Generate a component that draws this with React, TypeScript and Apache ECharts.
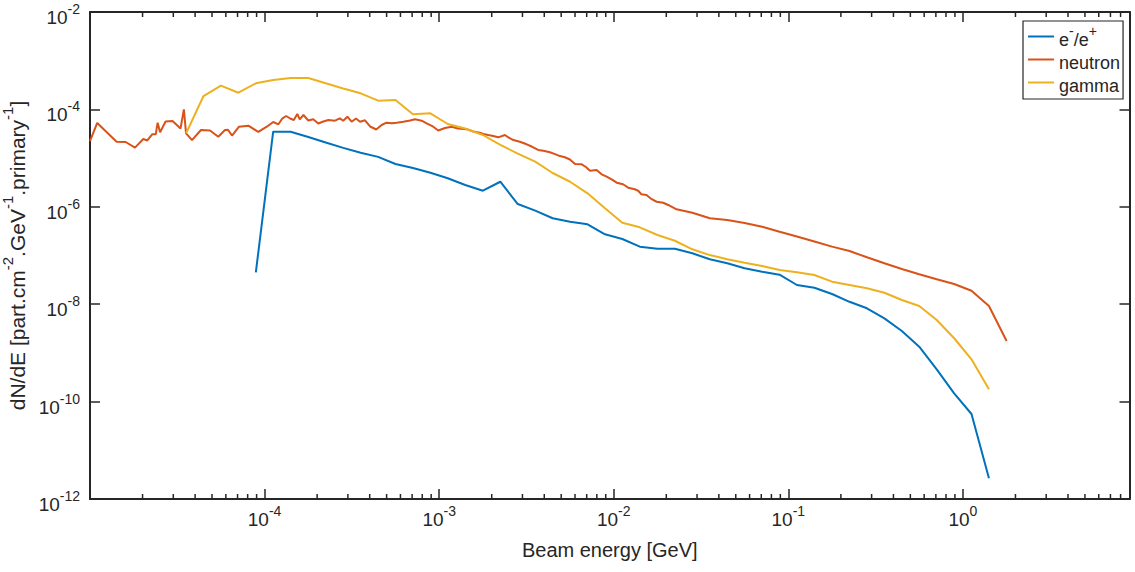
import { useEffect, useRef } from "react";
import * as echarts from "echarts";

// Spectra per unit energy, normalised per primary, for each secondary particle type.
const electronEnergy = [
  8.91e-5, 1.12e-4, 1.41e-4, 1.78e-4, 2.24e-4, 2.82e-4, 3.55e-4, 4.47e-4, 5.62e-4, 7.08e-4,
  8.91e-4, 1.12e-3, 1.41e-3, 1.78e-3, 2.24e-3, 2.82e-3, 3.55e-3, 4.47e-3, 5.62e-3, 7.08e-3,
  8.91e-3, 1.12e-2, 1.41e-2, 1.78e-2, 2.24e-2, 2.82e-2, 3.55e-2, 4.47e-2, 5.62e-2, 7.08e-2,
  8.91e-2, 0.112, 0.141, 0.178, 0.224, 0.282, 0.355, 0.447, 0.562, 0.708, 0.891, 1.12, 1.41,
];
const electronFlux = [
  4.48e-8, 3.48e-5, 3.48e-5, 2.71e-5, 2.09e-5, 1.62e-5, 1.29e-5, 1.06e-5, 7.57e-6, 6.27e-6,
  5.01e-6, 3.85e-6, 2.81e-6, 2.14e-6, 3.27e-6, 1.14e-6, 8.32e-7, 5.81e-7, 4.94e-7, 4.38e-7,
  2.72e-7, 2.18e-7, 1.52e-7, 1.38e-7, 1.38e-7, 1.11e-7, 8.36e-8, 6.92e-8, 5.46e-8, 4.65e-8,
  4.04e-8, 2.48e-8, 2.18e-8, 1.62e-8, 1.12e-8, 8.24e-9, 5.13e-9, 2.82e-9, 1.34e-9, 4.6e-10,
  1.48e-10, 5.56e-11, 2.66e-12,
];

const neutronEnergy = [
  1.0e-5, 1.1e-5, 1.42e-5, 1.6e-5, 1.81e-5, 2.02e-5, 2.13e-5, 2.27e-5, 2.38e-5, 2.44e-5,
  2.52e-5, 2.71e-5, 2.97e-5, 3.3e-5, 3.45e-5, 3.55e-5, 3.84e-5, 4.32e-5, 4.87e-5, 5.43e-5,
  5.93e-5, 6.17e-5, 6.51e-5, 7.14e-5, 8.07e-5, 9.2e-5, 1.03e-4, 1.12e-4, 1.2e-4, 1.26e-4,
  1.33e-4, 1.4e-4, 1.47e-4, 1.54e-4, 1.59e-4, 1.67e-4, 1.78e-4, 1.9e-4, 2.03e-4, 2.17e-4,
  2.32e-4, 2.53e-4, 2.7e-4, 2.82e-4, 2.98e-4, 3.15e-4, 3.34e-4, 3.52e-4, 3.76e-4, 4.02e-4,
  4.36e-4, 4.68e-4, 5.0e-4, 5.35e-4, 5.71e-4, 6.23e-4, 6.81e-4, 7.27e-4, 7.94e-4, 8.48e-4,
  9.25e-4, 9.88e-4, 1.08e-3, 1.18e-3, 1.28e-3, 1.44e-3, 1.57e-3, 1.71e-3, 1.79e-3, 1.91e-3,
  2.04e-3, 2.18e-3, 2.38e-3, 2.49e-3, 2.66e-3, 2.9e-3, 3.17e-3, 3.39e-3, 3.69e-3, 3.95e-3,
  4.31e-3, 4.61e-3, 4.92e-3, 5.25e-3, 5.61e-3, 6.0e-3, 6.55e-3, 6.93e-3, 7.31e-3, 7.98e-3,
  8.52e-3, 9.11e-3, 9.72e-3, 1.04e-2, 1.13e-2, 1.21e-2, 1.32e-2, 1.38e-2, 1.44e-2, 1.54e-2,
  1.65e-2, 1.76e-2, 1.92e-2, 2.05e-2, 2.29e-2, 2.82e-2, 3.55e-2, 4.47e-2, 5.62e-2, 7.08e-2,
  8.91e-2, 0.112, 0.141, 0.178, 0.224, 0.282, 0.355, 0.447, 0.562, 0.708, 0.891, 1.12, 1.41,
  1.78,
];
const neutronFlux = [
  2.24e-5, 5.26e-5, 2.17e-5, 2.14e-5, 1.64e-5, 2.47e-5, 2.3e-5, 3.08e-5, 3.08e-5, 5.33e-5,
  3.39e-5, 5.64e-5, 5.78e-5, 4.06e-5, 1.0e-4, 3.23e-5, 2.33e-5, 3.78e-5, 3.69e-5, 2.75e-5,
  3.78e-5, 3.81e-5, 2.91e-5, 4.41e-5, 4.63e-5, 3.44e-5, 4.41e-5, 5.51e-5, 4.94e-5, 6.44e-5,
  7.32e-5, 6.5e-5, 6.06e-5, 8.04e-5, 6.26e-5, 7.67e-5, 5.92e-5, 6.26e-5, 5.13e-5, 5.64e-5,
  6.06e-5, 5.86e-5, 6.56e-5, 5.86e-5, 7.08e-5, 5.59e-5, 6.5e-5, 5.59e-5, 5.97e-5, 4.46e-5,
  3.87e-5, 4.78e-5, 5.33e-5, 5.18e-5, 5.33e-5, 5.59e-5, 5.92e-5, 6.26e-5, 5.86e-5, 5.18e-5,
  4.41e-5, 3.69e-5, 4.15e-5, 4.41e-5, 4.06e-5, 3.9e-5, 3.52e-5, 3.32e-5, 3.13e-5, 2.98e-5,
  2.84e-5, 2.67e-5, 2.98e-5, 2.67e-5, 2.35e-5, 2.17e-5, 1.92e-5, 1.73e-5, 1.47e-5, 1.42e-5,
  1.32e-5, 1.21e-5, 1.1e-5, 1.04e-5, 9.36e-6, 7.57e-6, 7.46e-6, 6.56e-6, 5.51e-6, 5.7e-6,
  4.65e-6, 4.15e-6, 3.67e-6, 3.13e-6, 2.9e-6, 2.47e-6, 2.29e-6, 2.14e-6, 1.81e-6, 1.75e-6,
  1.43e-6, 1.27e-6, 1.21e-6, 1.09e-6, 8.88e-7, 7.57e-7, 5.81e-7, 5.36e-7, 4.65e-7, 3.9e-7,
  3.07e-7, 2.45e-7, 1.94e-7, 1.52e-7, 1.24e-7, 9.18e-8, 6.91e-8, 5.28e-8, 4.11e-8, 3.25e-8,
  2.6e-8, 1.89e-8, 9.18e-9, 1.76e-9,
];

const gammaEnergy = [
  3.55e-5, 4.47e-5, 5.62e-5, 7.08e-5, 8.91e-5, 1.12e-4, 1.41e-4, 1.78e-4, 2.24e-4, 2.82e-4,
  3.55e-4, 4.47e-4, 5.62e-4, 7.08e-4, 8.91e-4, 1.12e-3, 1.41e-3, 1.78e-3, 2.24e-3, 2.82e-3,
  3.55e-3, 4.47e-3, 5.62e-3, 7.08e-3, 8.91e-3, 1.12e-2, 1.41e-2, 1.78e-2, 2.24e-2, 2.82e-2,
  3.55e-2, 4.47e-2, 5.62e-2, 7.08e-2, 8.91e-2, 0.112, 0.141, 0.178, 0.224, 0.282, 0.355,
  0.447, 0.562, 0.708, 0.891, 1.12, 1.41,
];
const gammaFlux = [
  3.23e-5, 1.88e-4, 3.07e-4, 2.2e-4, 3.44e-4, 4.02e-4, 4.42e-4, 4.42e-4, 3.44e-4, 2.69e-4,
  2.14e-4, 1.51e-4, 1.56e-4, 7.93e-5, 8.32e-5, 5.01e-5, 4.06e-5, 2.98e-5, 1.86e-5, 1.24e-5,
  8.43e-6, 4.94e-6, 3.27e-6, 1.89e-6, 9.31e-7, 4.72e-7, 3.79e-7, 2.64e-7, 2.01e-7, 1.34e-7,
  1.02e-7, 8.36e-8, 7.11e-8, 6.08e-8, 5.04e-8, 4.52e-8, 3.98e-8, 2.9e-8, 2.48e-8, 2.12e-8,
  1.72e-8, 1.22e-8, 9.18e-9, 4.74e-9, 2.0e-9, 7.4e-10, 1.79e-10,
];

// Axis ranges and the decades that carry a label
const X_MIN = 1e-5;
const X_MAX = 9;
const Y_MIN = 1e-12;
const Y_MAX = 1e-2;
const xLabelExponents = [-4, -3, -2, -1, 0];
const yLabelExponents = [-12, -10, -8, -6, -4, -2];
const minorMantissas = [2, 3, 4, 5, 6, 7, 8, 9];
const minorDecades = [-5, -4, -3, -2, -1, 0];

const seriesNames = ["e-/e+", "neutron", "gamma"];
const seriesColors = ["#0072BD", "#D95319", "#EDB120"];

const INK = "#262626";
const FONT = "'Liberation Sans', Arial, Helvetica, sans-serif";

const GRID = { left: 90, top: 12, width: 1039.5, height: 487 };

const pairs = (xs: number[], ys: number[]) => xs.map((x, i) => [x, ys[i]]);

const supRich = (base: number, sup: number, lh: number) => ({
  b: { fontSize: base, lineHeight: lh, verticalAlign: "bottom", fontFamily: FONT, color: INK },
  s: { fontSize: sup, lineHeight: 12, verticalAlign: "top", fontFamily: FONT, color: INK },
});

const decadeFormatter = (labelled: number[]) => (v: number) => {
  const lg = Math.log10(v);
  const e = Math.round(lg);
  if (Math.abs(lg - e) > 1e-6 || !labelled.includes(e)) return "";
  return `{b|10}{s|${e}}`;
};

export default function App() {
  const ref = useRef<HTMLDivElement>(null);

  useEffect(() => {
    const el = ref.current;
    if (!el) return;
    const chart = echarts.init(el, null, { renderer: "svg" });

    const axisLine = { show: true, onZero: false, lineStyle: { color: INK, width: 2 } };
    const majorTick = { show: true, inside: true, length: 10, lineStyle: { color: INK, width: 1.5 } };

    chart.setOption({
      animation: false,
      backgroundColor: "#ffffff",
      grid: { ...GRID, containLabel: false, outerBoundsMode: "none" },
      legend: {
        orient: "vertical",
        left: 1023,
        top: 21,
        padding: [3, 3, 4, 5],
        itemGap: 5,
        itemWidth: 26,
        itemHeight: 2,
        icon: "rect",
        selectedMode: false,
        backgroundColor: "#ffffff",
        borderColor: INK,
        borderWidth: 1.2,
        borderRadius: 0,
        data: seriesNames,
        formatter: (name: string) =>
          name === "e-/e+" ? "{b|e}{s|-}{b|/e}{s|+}" : `{b|${name}}`,
        textStyle: { fontSize: 18, fontFamily: FONT, color: INK, rich: supRich(18, 14, 25) },
      },
      xAxis: [
        {
          type: "log",
          logBase: 10,
          min: X_MIN,
          max: X_MAX,
          interval: 1,
          position: "bottom",
          name: "Beam energy [GeV]",
          nameLocation: "middle",
          nameGap: 41,
          nameTextStyle: { fontSize: 20, fontFamily: FONT, color: INK },
          axisLine,
          axisTick: majorTick,
          splitLine: { show: false },
          axisLabel: {
            margin: 5,
            formatter: decadeFormatter(xLabelExponents),
            rich: supRich(19, 14, 25),
          },
        },
        {
          type: "log",
          logBase: 10,
          min: X_MIN,
          max: X_MAX,
          interval: 1,
          position: "top",
          axisLine,
          axisTick: majorTick,
          splitLine: { show: false },
          axisLabel: { show: false },
        },
      ],
      yAxis: [
        {
          type: "log",
          logBase: 10,
          min: Y_MIN,
          max: Y_MAX,
          interval: 2,
          position: "left",
          name: "{b|dN/dE [part.cm}{s|-2}{b|.GeV}{s|-1}{b|.primary}{s|-1}{b|]}",
          nameLocation: "middle",
          nameRotate: 90,
          nameGap: 48,
          nameTextStyle: { fontSize: 21, fontFamily: FONT, color: INK, rich: supRich(21, 15, 28) },
          axisLine,
          axisTick: majorTick,
          splitLine: { show: false },
          axisLabel: {
            margin: 10,
            padding: [5, 0, 0, 0],
            formatter: decadeFormatter(yLabelExponents),
            rich: supRich(19, 14, 25),
          },
        },
        {
          type: "log",
          logBase: 10,
          min: Y_MIN,
          max: Y_MAX,
          interval: 2,
          position: "right",
          axisLine,
          axisTick: majorTick,
          splitLine: { show: false },
          axisLabel: { show: false },
        },
      ],
      series: [
        { data: pairs(electronEnergy, electronFlux) },
        { data: pairs(neutronEnergy, neutronFlux) },
        { data: pairs(gammaEnergy, gammaFlux) },
      ].map((s, i) => ({
        type: "line",
        name: seriesNames[i],
        data: s.data,
        xAxisIndex: 0,
        yAxisIndex: 0,
        symbol: "none",
        color: seriesColors[i],
        lineStyle: { color: seriesColors[i], width: 2 },
        clip: true,
        z: 3 + i,
      })),
    });

    // Minor ticks at 2..9 of each decade, inside the box on bottom and top edges
    const bottom = GRID.top + GRID.height;
    const top = GRID.top;
    const minorTicks: any[] = [];
    minorDecades.forEach((d) => {
      minorMantissas.forEach((m) => {
        const v = m * Math.pow(10, d);
        if (v >= X_MAX) return;
        const px = chart.convertToPixel({ xAxisIndex: 0 }, v) as number;
        const style = { stroke: INK, lineWidth: 1.5 };
        minorTicks.push(
          { type: "line", silent: true, z: 10, shape: { x1: px, y1: bottom, x2: px, y2: bottom - 5 }, style },
          { type: "line", silent: true, z: 10, shape: { x1: px, y1: top, x2: px, y2: top + 5 }, style }
        );
      });
    });
    chart.setOption({ graphic: minorTicks });

    return () => chart.dispose();
  }, []);

  return (
    <div
      ref={ref}
      style={{ position: "fixed", left: 0, top: 0, width: 1135, height: 572, background: "#fff" }}
    />
  );
}
